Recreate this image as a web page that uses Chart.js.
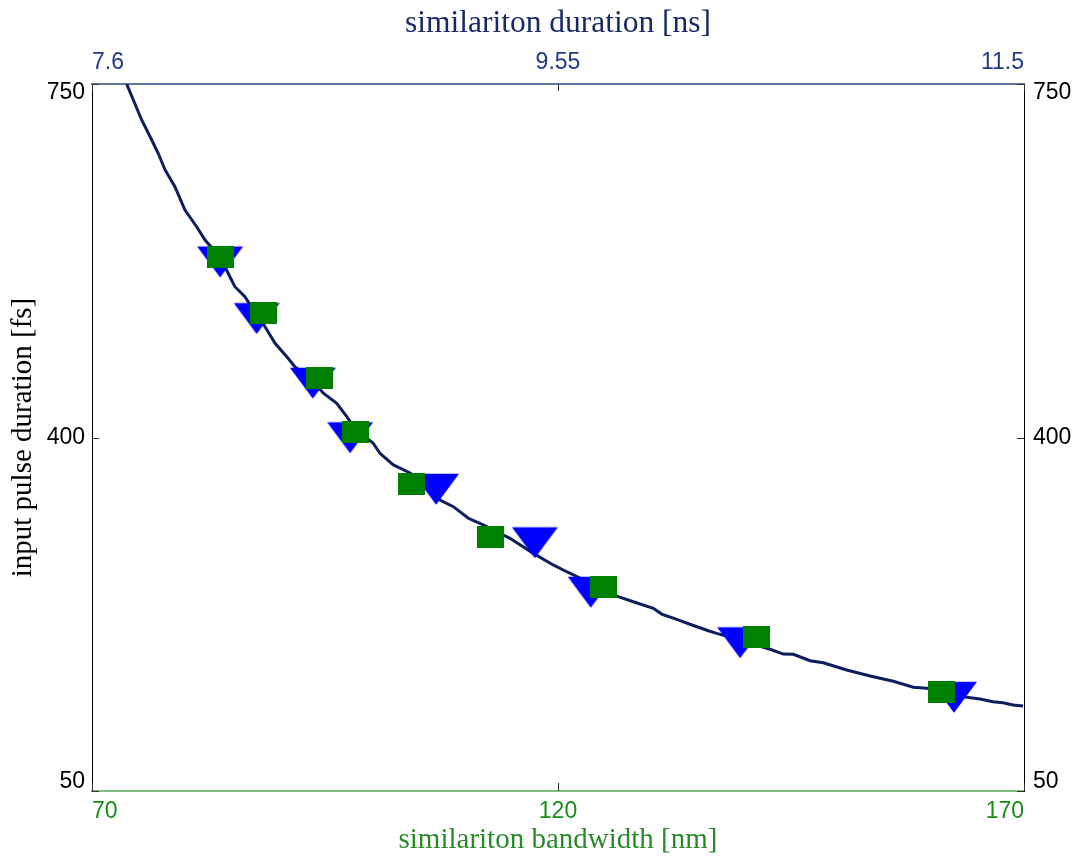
<!DOCTYPE html>
<html>
<head>
<meta charset="utf-8">
<script src="https://cdn.jsdelivr.net/npm/chart.js@4"></script>
<style>
  html, body { margin: 0; padding: 0; background: #fff; }
  #wrap { width: 1086px; height: 859px; position: relative; }
</style>
</head>
<body>
<div id="wrap"><canvas id="chart"></canvas></div>
<script>
// axis ticks
const durationTicks = [7.6, 9.55, 11.5];     // top, ns
const bandwidthTicks = [70, 120, 170];       // bottom, nm
const pulseTicks = [50, 400, 750];           // left/right, fs

// simulated curve: similariton duration (ns) vs input pulse duration (fs)
const curveDuration = [7.745, 7.773, 7.808, 7.850, 7.877, 7.906, 7.947, 7.989, 8.038, 8.073,
  8.136, 8.177, 8.198, 8.240, 8.253, 8.289, 8.324, 8.366, 8.415, 8.449,
  8.521, 8.567, 8.624, 8.666, 8.705, 8.776, 8.805, 8.861, 8.931, 8.993,
  9.056, 9.112, 9.175, 9.237, 9.295, 9.349, 9.447, 9.530, 9.586, 9.642,
  9.726, 9.802, 9.865, 9.949, 9.984, 10.047, 10.102, 10.179, 10.214, 10.312,
  10.379, 10.437, 10.493, 10.535, 10.605, 10.660, 10.758, 10.856, 10.953, 11.037,
  11.093, 11.169, 11.260, 11.316, 11.370, 11.412, 11.454, 11.496];
const curvePulse = [750, 734.2, 714.4, 694.6, 681.4, 664.9, 648.3, 625.2, 608.7, 595.5,
  578.7, 559.2, 549.3, 539.4, 534.5, 523.6, 509.7, 493.3, 480, 470.1,
  456.9, 444.1, 433.9, 420.6, 407.4, 394.6, 384.4, 372.8, 364.9, 353,
  338.1, 331.5, 320, 313.4, 306.4, 300.2, 285.3, 273.8, 267.1, 260.9,
  251, 242.4, 237.4, 230.9, 225.2, 220, 215.1, 208.7, 206.1, 199.5,
  194.5, 190.3, 185.6, 185.3, 179, 177, 169.8, 163.9, 158.6, 152.7,
  151.7, 148, 142.8, 141.1, 138.4, 137.4, 135.1, 134.2];

// measurements
const pulseFs = [579, 523, 459, 405, 354, 301, 252, 202, 148];
const measDuration = [8.136, 8.289, 8.524, 8.680, 9.040, 9.453, 9.687, 10.312, 11.207];
const measBandwidth = [83.8, 88.4, 94.4, 98.3, 104.3, 112.8, 124.9, 141.3, 161.1];

const NAVY = '#0c1f5c';
const BLUE = '#0000ff';
const GREEN = '#008000';

// MATLAB-like stretched markers
function squareMarker() {
  const c = document.createElement('canvas');
  c.width = 27; c.height = 22;
  const g = c.getContext('2d');
  g.fillStyle = GREEN;
  g.fillRect(0, 0, 27, 22);
  return c;
}
function triangleMarker() {
  // centroid sits at the canvas centre
  const c = document.createElement('canvas');
  c.width = 46; c.height = 42;
  const g = c.getContext('2d');
  g.fillStyle = BLUE;
  g.beginPath();
  g.moveTo(0, 10.7);
  g.lineTo(46, 10.7);
  g.lineTo(23, 41.7);
  g.closePath();
  g.fill();
  return c;
}

const setTicks = (vals) => (scale) => { scale.ticks = vals.map(v => ({ value: v })); };

// inner tick marks + y tick labels pinned inside the frame
const frameTicks = {
  id: 'frameTicks',
  afterDraw(chart) {
    const { ctx, chartArea: a, scales } = chart;
    ctx.save();
    ctx.strokeStyle = '#333';
    ctx.lineWidth = 1;
    ctx.beginPath();
    pulseTicks.forEach(v => {
      const y = Math.round(scales.y.getPixelForValue(v)) + 0.5;
      ctx.moveTo(a.left, y); ctx.lineTo(a.left + 7, y);
      ctx.moveTo(a.right, y); ctx.lineTo(a.right - 7, y);
    });
    bandwidthTicks.forEach(v => {
      const x = Math.round(scales.x.getPixelForValue(v)) + 0.5;
      ctx.moveTo(x, a.bottom); ctx.lineTo(x, a.bottom - 8);
    });
    durationTicks.forEach(v => {
      const x = Math.round(scales.x2.getPixelForValue(v)) + 0.5;
      ctx.moveTo(x, a.top); ctx.lineTo(x, a.top + 7);
    });
    ctx.stroke();

    ctx.font = '23px "Liberation Sans", Arial, sans-serif';
    ctx.fillStyle = '#000';
    ctx.textBaseline = 'middle';
    pulseTicks.forEach(v => {
      let y = scales.y.getPixelForValue(v);
      if (v === scales.y.max) y += 9;
      else if (v === scales.y.min) y -= 9;
      ctx.textAlign = 'right';
      ctx.fillText(String(v), a.left - 7, y);
      ctx.textAlign = 'left';
      ctx.fillText(String(v), a.right + 9, y);
    });
    ctx.restore();
  }
};

const tickFont = { family: '"Liberation Sans", Arial, sans-serif', size: 23 };
const titleFont = { family: '"Liberation Serif", "Times New Roman", serif', size: 29 };

new Chart(document.getElementById('chart'), {
  type: 'scatter',
  data: {
    datasets: [
      {
        label: 'bandwidth',
        xAxisID: 'x',
        data: measBandwidth.map((x, i) => ({ x, y: pulseFs[i] })),
        pointStyle: squareMarker(),
        order: 0
      },
      {
        label: 'duration',
        xAxisID: 'x2',
        data: measDuration.map((x, i) => ({ x, y: pulseFs[i] })),
        pointStyle: triangleMarker(),
        order: 1
      },
      {
        label: 'simulation',
        xAxisID: 'x2',
        data: curveDuration.map((x, i) => ({ x, y: curvePulse[i] })),
        showLine: true,
        pointRadius: 0,
        borderColor: NAVY,
        borderWidth: 3,
        order: 2
      }
    ]
  },
  options: {
    responsive: true,
    maintainAspectRatio: false,
    animation: false,
    layout: { padding: 0 },
    plugins: { legend: { display: false }, tooltip: { enabled: false } },
    scales: {
      x: {
        type: 'linear', position: 'bottom', min: 70, max: 170,
        afterBuildTicks: setTicks(bandwidthTicks),
        afterFit: (s) => { s.height = 68; },
        grid: { display: false, drawTicks: false },
        border: { color: '#7cbf7c', width: 2 },
        ticks: { align: 'inner', padding: 7, color: '#1a8c1a', font: tickFont, callback: v => String(v) },
        title: { display: true, text: 'similariton bandwidth [nm]', color: '#2a8a2a', font: titleFont, padding: { top: 0, bottom: 1 } }
      },
      x2: {
        type: 'linear', position: 'top', min: 7.6, max: 11.5,
        afterBuildTicks: setTicks(durationTicks),
        afterFit: (s) => { s.height = 84; },
        grid: { display: false, drawTicks: false },
        border: { color: '#5f77a6', width: 2 },
        ticks: { align: 'inner', padding: 8, color: '#1f3a85', font: tickFont, callback: v => String(v) },
        title: { display: true, text: 'similariton duration [ns]', color: '#172a63', font: { ...titleFont, size: 31.5 }, padding: { top: 5, bottom: 0 } }
      },
      y: {
        type: 'linear', position: 'left', min: 50, max: 750,
        afterBuildTicks: setTicks(pulseTicks),
        afterFit: (s) => { s.width = 92; },
        grid: { display: false, drawTicks: false },
        border: { color: '#000', width: 1 },
        ticks: { display: false },
        title: { display: true, text: 'input pulse duration [fs]', color: '#000', font: titleFont, padding: { top: 6, bottom: 0 } }
      },
      y2: {
        type: 'linear', position: 'right', min: 50, max: 750,
        afterBuildTicks: setTicks(pulseTicks),
        afterFit: (s) => { s.width = 62; },
        grid: { display: false, drawTicks: false },
        border: { color: '#000', width: 1 },
        ticks: { display: false }
      }
    }
  },
  plugins: [frameTicks]
});
</script>
</body>
</html>
